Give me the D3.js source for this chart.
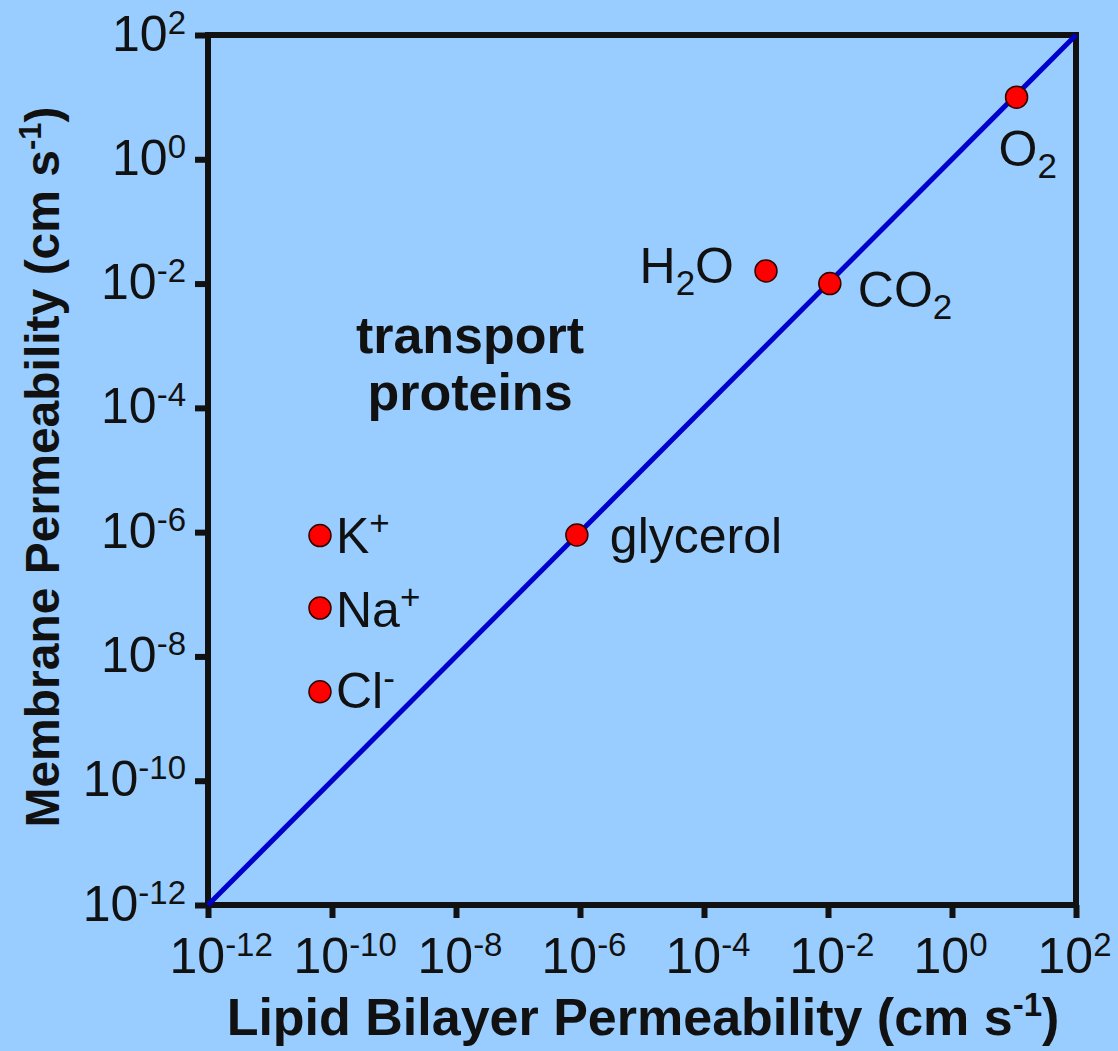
<!DOCTYPE html>
<html>
<head>
<meta charset="utf-8">
<script src="https://cdn.jsdelivr.net/npm/d3@7"></script>
<style>
  html, body { margin: 0; padding: 0; background: #99ccff; }
  text { font-family: "Liberation Sans", Arial, sans-serif; fill: #111; }
</style>
</head>
<body>
<div id="chart"></div>
<script>
// values (cm s^-1)
const species = ["O2", "CO2", "H2O", "glycerol", "K+", "Na+", "Cl-"]
const lipidPerm = [11, 1.07e-2, 1e-3, 8.9e-7, 6.4e-11, 6.4e-11, 6.4e-11]
const membranePerm = [10, 1e-2, 1.6e-2, 9e-7, 8.8e-7, 6e-8, 2.7e-9]
const tickExponents = [-12, -10, -8, -6, -4, -2, 0, 2]

// where each label sits relative to its dot
const labelPlace = {
    "O2": { dx: -18, dy: 69, anchor: "start" },
    "CO2": { dx: 28, dy: 23, anchor: "start" },
    "H2O": { dx: -32, dy: 12, anchor: "end" },
    "glycerol": { dx: 33, dy: 18, anchor: "start" },
    "K+": { dx: 16, dy: 17, anchor: "start" },
    "Na+": { dx: 16, dy: 19, anchor: "start" },
    "Cl-": { dx: 16, dy: 16, anchor: "start" }
}

const width = 1118, height = 1051
const margin = { top: 35, right: 42, bottom: 146, left: 208 }

const svg = d3.select("#chart").append("svg")
    .attr("width", width)
    .attr("height", height)

svg.append("rect").attr("width", width).attr("height", height).attr("fill", "#99ccff")

const x = d3.scaleLog()
    .domain([1e-12, 1e2])
    .range([margin.left, width - margin.right])
const y = d3.scaleLog()
    .domain([1e-12, 1e2])
    .range([height - margin.bottom, margin.top])

// write "10" with a raised exponent
function powerLabel(sel, e) {
    sel.text("")
    sel.append("tspan").text("10")
    sel.append("tspan").attr("dy", -17).attr("font-size", 33).text(e)
}

const xAxis = svg.append("g")
    .attr("transform", "translate(0," + y.range()[0] + ")")
    .call(d3.axisBottom(x)
        .tickValues(tickExponents.map(e => Math.pow(10, e)))
        .tickSize(13).tickSizeOuter(0).tickFormat(""))
xAxis.select(".domain").remove()
xAxis.selectAll(".tick line").attr("stroke", "#111").attr("stroke-width", 6)
xAxis.selectAll(".tick").append("text")
    .attr("x", -39).attr("y", 68).attr("text-anchor", "start")
    .attr("font-size", 50)
    .each(function(d) { powerLabel(d3.select(this), Math.round(Math.log10(d))) })

const yAxis = svg.append("g")
    .attr("transform", "translate(" + x.range()[0] + ",0)")
    .call(d3.axisLeft(y)
        .tickValues(tickExponents.map(e => Math.pow(10, e)))
        .tickSize(13).tickSizeOuter(0).tickFormat(""))
yAxis.select(".domain").remove()
yAxis.selectAll(".tick line").attr("stroke", "#111").attr("stroke-width", 6)
yAxis.selectAll(".tick").append("text")
    .attr("x", -22).attr("y", 15).attr("text-anchor", "end")
    .attr("font-size", 50)
    .each(function(d) { powerLabel(d3.select(this), Math.round(Math.log10(d))) })

// frame
svg.append("rect")
    .attr("x", x.range()[0]).attr("y", y.range()[1])
    .attr("width", x.range()[1] - x.range()[0])
    .attr("height", y.range()[0] - y.range()[1])
    .attr("fill", "none").attr("stroke", "#111").attr("stroke-width", 6)

// unity line
const line = d3.line().x(d => x(d)).y(d => y(d))
svg.append("path")
    .datum(x.domain())
    .attr("d", line)
    .attr("stroke", "#0000cc").attr("stroke-width", 5).attr("fill", "none")

// dots
const pts = species.map((s, i) => ({ name: s, lx: lipidPerm[i], my: membranePerm[i] }))
svg.selectAll("circle.pt")
    .data(pts).enter()
    .append("circle")
    .attr("class", "pt")
    .attr("cx", d => x(d.lx))
    .attr("cy", d => y(d.my))
    .attr("r", 11)
    .attr("fill", "#ff0000")
    .attr("stroke", "#330000").attr("stroke-width", 1.5)

// labels: digits become subscripts, trailing +/- becomes superscript
svg.selectAll("text.lbl")
    .data(pts).enter()
    .append("text")
    .attr("class", "lbl")
    .attr("x", d => x(d.lx) + labelPlace[d.name].dx)
    .attr("y", d => y(d.my) + labelPlace[d.name].dy)
    .attr("text-anchor", d => labelPlace[d.name].anchor)
    .attr("font-size", 50)
    .each(function(d) {
        const t = d3.select(this)
        const parts = d.name.match(/[A-Za-z]+|\d|[+-]/g)
        let shift = 0
        parts.forEach(p => {
            if (/\d/.test(p)) {
                t.append("tspan").attr("dy", 12 - shift).attr("font-size", 35).text(p)
                shift = 12
            } else if (/[+-]/.test(p)) {
                t.append("tspan").attr("dy", -18 - shift).attr("font-size", 35).text(p)
                shift = -18
            } else {
                t.append("tspan").attr("dy", -shift).text(p)
                shift = 0
            }
        })
    })

// annotation
const note = svg.append("text")
    .attr("text-anchor", "middle").attr("font-weight", "bold").attr("font-size", 52)
note.append("tspan").attr("x", 470).attr("y", 353).text("transport")
note.append("tspan").attr("x", 470).attr("y", 410).text("proteins")

// axis titles
const xt = svg.append("text")
    .attr("x", 643).attr("y", 1035)
    .attr("text-anchor", "middle").attr("font-weight", "bold").attr("font-size", 52)
xt.append("tspan").text("Lipid Bilayer Permeability (cm s")
xt.append("tspan").attr("dy", -19).attr("font-size", 33).text("-1")
xt.append("tspan").attr("dy", 19).text(")")

const yt = svg.append("text")
    .attr("transform", "translate(59,467) rotate(-90)")
    .attr("text-anchor", "middle").attr("font-weight", "bold").attr("font-size", 48)
yt.append("tspan").text("Membrane Permeability (cm s")
yt.append("tspan").attr("dy", -18).attr("font-size", 31).text("-1")
yt.append("tspan").attr("dy", 18).text(")")
</script>
</body>
</html>
